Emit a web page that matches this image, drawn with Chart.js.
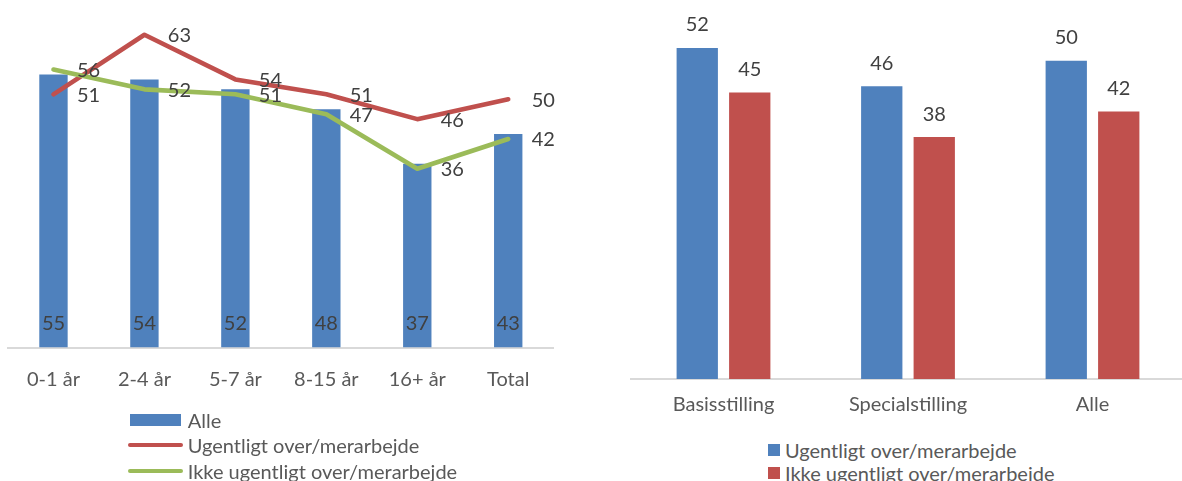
<!DOCTYPE html>
<html lang="da">
<head>
<meta charset="utf-8">
<title>Over/merarbejde</title>
<script src="https://cdn.jsdelivr.net/npm/chart.js@4.4.1/dist/chart.umd.min.js"></script>
<style>
  html, body { margin: 0; padding: 0; width: 1182px; height: 481px; overflow: hidden; background: #fff; }
  canvas { position: absolute; }
  .legend { position: absolute; font: 20px Lato, sans-serif; color: #595959; }
  .legend .row { position: absolute; left: 0; height: 24px; display: flex; align-items: center; white-space: nowrap; }
  .legend .cell { display: flex; align-items: center; justify-content: center; flex: none; }
</style>
</head>
<body>
<canvas id="ageChart" width="580" height="420" style="left:0;top:0"></canvas>
<div class="legend" id="ageLegend"></div>
<canvas id="jobChart" width="590" height="440" style="left:600px;top:-3px"></canvas>
<div class="legend" id="jobLegend"></div>

<script>
// Seniority groups and shares (%)
const ageGroups = ['0-1 år', '2-4 år', '5-7 år', '8-15 år', '16+ år', 'Total'];
const alleByAge = [55, 54, 52, 48, 37, 43];
const weeklyByAge = [51, 63, 54, 51, 46, 50];
const notWeeklyByAge = [56, 52, 51, 47, 36, 42];

// Position types and shares (%)
const positionTypes = ['Basisstilling', 'Specialstilling', 'Alle'];
const weeklyByPosition = [52, 46, 50];
const notWeeklyByPosition = [45, 38, 42];

const seriesAll = 'Alle';
const seriesWeekly = 'Ugentligt over/merarbejde';
const seriesNotWeekly = 'Ikke ugentligt over/merarbejde';

const BLUE = '#4F81BD';
const RED = '#C0504D';
const GREEN = '#9BBB59';
const LABEL_COLOR = '#404040';
const AXIS_TEXT = '#595959';
const AXIS_LINE = '#D9D9D9';
const FONT = { family: 'Lato', size: 20 };

// Writes each value next to its bar or point, using the element positions
const valueLabels = {
  id: 'valueLabels',
  afterDatasetsDraw(chart, args, opts) {
    const ctx = chart.ctx;
    ctx.save();
    ctx.font = `${FONT.size}px ${FONT.family}`;
    ctx.fillStyle = LABEL_COLOR;
    ctx.textBaseline = 'middle';
    chart.data.datasets.forEach((ds, i) => {
      const meta = chart.getDatasetMeta(i);
      const placement = ds.labelPlacement;
      if (!placement || meta.hidden) return;
      meta.data.forEach((el, j) => {
        const text = String(ds.data[j]);
        const p = el.getProps(['x', 'y', 'base'], true);
        if (placement === 'insideBase') {
          ctx.textAlign = 'center';
          ctx.fillText(text, p.x, p.base - opts.baseOffset);
        } else if (placement === 'outsideEnd') {
          ctx.textAlign = 'center';
          ctx.fillText(text, p.x, p.y - opts.endOffset);
        } else if (placement === 'right') {
          ctx.textAlign = 'left';
          ctx.fillText(text, p.x + opts.sideOffset, p.y + 1);
        }
      });
    });
    ctx.restore();
  }
};

// Builds a stacked HTML legend from the chart's datasets
const htmlLegend = {
  id: 'htmlLegend',
  afterUpdate(chart, args, opts) {
    const box = document.getElementById(opts.containerID);
    box.innerHTML = '';
    box.style.left = opts.left + 'px';
    box.style.top = '0px';
    chart.data.datasets.forEach((ds, k) => {
      const row = document.createElement('div');
      row.className = 'row';
      row.style.top = (opts.firstCenter + k * opts.rowGap - 12) + 'px';
      const cell = document.createElement('span');
      cell.className = 'cell';
      cell.style.width = opts.cellWidth + 'px';
      cell.style.height = '24px';
      const swatch = document.createElement('span');
      if (ds.type === 'line') {
        swatch.style.cssText = `display:block;width:${opts.cellWidth}px;height:${opts.lineHeight}px;` +
          `border-radius:${opts.lineHeight / 2}px;background:${ds.borderColor}`;
      } else {
        swatch.style.cssText = `display:block;width:${opts.boxWidth}px;height:${opts.boxHeight}px;background:${ds.backgroundColor}`;
      }
      cell.appendChild(swatch);
      const label = document.createElement('span');
      label.textContent = ds.label;
      label.style.marginLeft = opts.gap + 'px';
      row.appendChild(cell);
      row.appendChild(label);
      box.appendChild(row);
    });
  }
};

const categoryAxis = (padding) => ({
  grid: { display: false, drawTicks: false },
  border: { display: true, color: AXIS_LINE, width: 2 },
  ticks: { font: FONT, color: AXIS_TEXT, padding: padding, maxRotation: 0, autoSkip: false }
});

// Left: shares by seniority, bars for everyone plus one line per group
new Chart(document.getElementById('ageChart'), {
  data: {
    labels: ageGroups,
    datasets: [
      {
        type: 'bar', label: seriesAll, data: alleByAge, backgroundColor: BLUE,
        borderWidth: 0, categoryPercentage: 1, barPercentage: 0.312,
        order: 3, labelPlacement: 'insideBase'
      },
      {
        type: 'line', label: seriesWeekly, data: weeklyByAge, borderColor: RED, backgroundColor: RED,
        borderWidth: 4.6, pointRadius: 0, tension: 0, borderCapStyle: 'round', borderJoinStyle: 'round',
        order: 2, labelPlacement: 'right'
      },
      {
        type: 'line', label: seriesNotWeekly, data: notWeeklyByAge, borderColor: GREEN, backgroundColor: GREEN,
        borderWidth: 4.6, pointRadius: 0, tension: 0, borderCapStyle: 'round', borderJoinStyle: 'round',
        order: 1, labelPlacement: 'right'
      }
    ]
  },
  options: {
    responsive: false,
    animation: false,
    devicePixelRatio: 1,
    layout: { padding: { left: 8, right: 26.3, top: 0, bottom: 7.5 } },
    scales: {
      x: categoryAxis(20.5),
      y: { display: false, min: 0, max: 70 }
    },
    plugins: {
      legend: { display: false },
      tooltip: { enabled: false },
      valueLabels: { baseOffset: 24, endOffset: 23, sideOffset: 23.4 },
      htmlLegend: {
        containerID: 'ageLegend', left: 128, firstCenter: 420, rowGap: 25.3,
        cellWidth: 55, boxWidth: 51.7, boxHeight: 12, lineHeight: 4, gap: 4.7
      }
    }
  },
  plugins: [valueLabels, htmlLegend]
});

// Right: shares by position type, grouped bars
new Chart(document.getElementById('jobChart'), {
  data: {
    labels: positionTypes,
    datasets: [
      {
        type: 'bar', label: seriesWeekly, data: weeklyByPosition, backgroundColor: BLUE,
        borderWidth: 0, categoryPercentage: 0.569, barPercentage: 0.787, labelPlacement: 'outsideEnd'
      },
      {
        type: 'bar', label: seriesNotWeekly, data: notWeeklyByPosition, backgroundColor: RED,
        borderWidth: 0, categoryPercentage: 0.569, barPercentage: 0.787, labelPlacement: 'outsideEnd'
      }
    ]
  },
  options: {
    responsive: false,
    animation: false,
    devicePixelRatio: 1,
    layout: { padding: { left: 31.25, right: 5.25, top: 0, bottom: 6 } },
    scales: {
      x: categoryAxis(14),
      y: { display: false, min: 0, max: 60 }
    },
    plugins: {
      legend: { display: false },
      tooltip: { enabled: false },
      valueLabels: { baseOffset: 24, endOffset: 23, sideOffset: 23.4 },
      htmlLegend: {
        containerID: 'jobLegend', left: 768.3, firstCenter: 450, rowGap: 23.2,
        cellWidth: 11.7, boxWidth: 11.7, boxHeight: 11.7, lineHeight: 4, gap: 5
      }
    }
  },
  plugins: [valueLabels, htmlLegend]
});
</script>
</body>
</html>
